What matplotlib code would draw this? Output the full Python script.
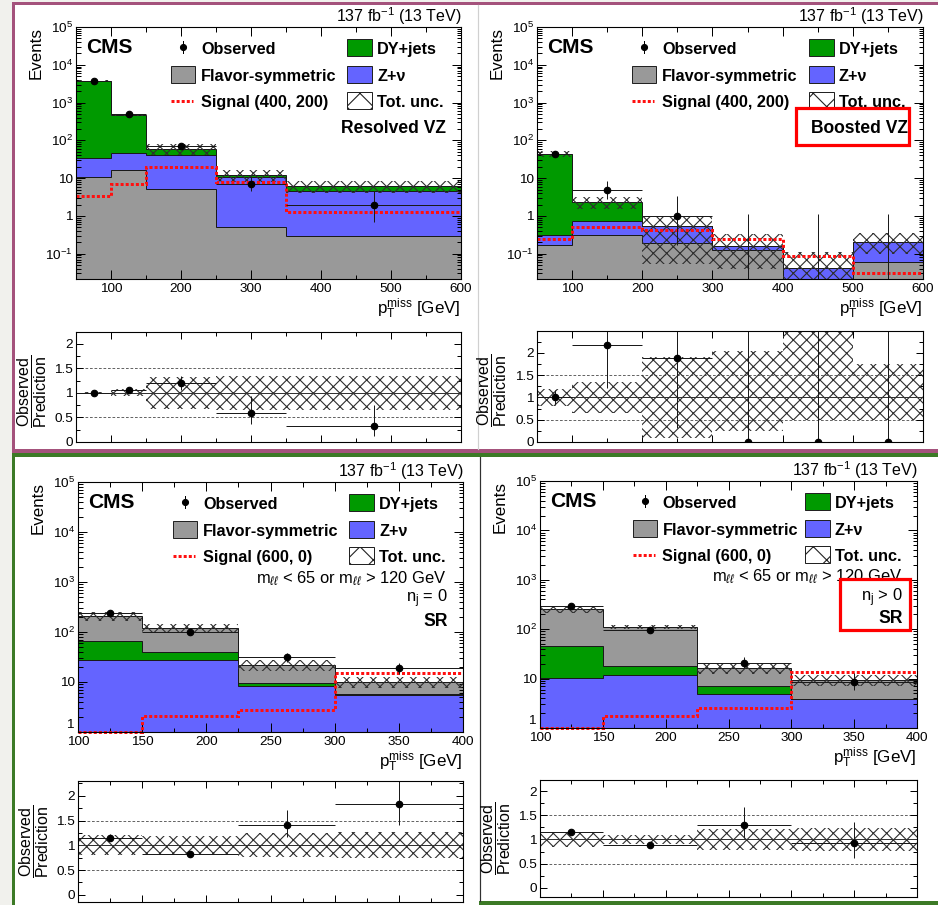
import numpy as np
import matplotlib
matplotlib.use("Agg")
import matplotlib.pyplot as plt
from matplotlib.patches import Rectangle
from matplotlib.lines import Line2D
from matplotlib.ticker import (LogLocator, MultipleLocator, FuncFormatter,
                               NullFormatter)

W, H, DPI = 938, 905, 80
PT = 72.0 / DPI  # points per pixel

plt.rcParams["font.family"] = ["Liberation Sans", "DejaVu Sans"]
plt.rcParams["mathtext.fontset"] = "custom"
plt.rcParams["mathtext.rm"] = "Liberation Sans"
plt.rcParams["mathtext.it"] = "Liberation Sans:italic"
plt.rcParams["mathtext.bf"] = "Liberation Sans:bold"
plt.rcParams["hatch.linewidth"] = 1.0

# ---------------- data ----------------
# Resolved VZ
rvz_edges = [50, 100, 150, 250, 350, 600]
rvz_flavsym = [11, 16, 5.2, 0.5, 0.3]
rvz_zv = [24, 29, 35, 10.5, 4.4]
rvz_dy = [3765, 430, 20, 1.0, 1.4]
rvz_obs = [3800, 500, 72, 7.2, 2.0]
rvz_obs_lo = [62, 22, 8.5, 2.7, 1.3]
rvz_obs_hi = [62, 22, 8.5, 4.0, 2.6]
rvz_unc_lo = [0.015, 0.07, 0.33, 0.35, 0.35]
rvz_unc_hi = [0.015, 0.07, 0.33, 0.35, 0.35]
rvz_signal = [3.3, 7.0, 20, 7.8, 1.25]

# Boosted VZ
bvz_edges = [50, 100, 200, 300, 400, 500, 600]
bvz_flavsym = [0.175, 0.31, 0.19, 0.125, 0.0, 0.06]
bvz_zv = [0.145, 0.44, 0.34, 0.035, 0.042, 0.14]
bvz_dy = [43.7, 1.55, 0.0, 0.0, 0.0, 0.0]
bvz_obs = [44, 5, 1, 0, 0, 0]
bvz_obs_lo = [7, 2.2, 0.83, 0, 0, 0]
bvz_obs_hi = [7, 3.4, 2.3, 1.15, 1.15, 1.15]
bvz_unc_lo = [0.2, 0.35, 0.9, 0.76, 0.5, 0.5]
bvz_unc_hi = [0.2, 0.35, 0.9, 1.05, 1.6, 0.75]
bvz_signal = [0.25, 0.52, 0.43, 0.25, 0.086, 0.03]

# SR, n_j = 0
sr0_edges = [100, 150, 225, 300, 400]
sr0_zv = [28, 27, 8.3, 5.5]
sr0_dy = [38, 12, 1.4, 0.25]
sr0_flavsym = [140, 83, 12.3, 4.45]
sr0_obs = [237, 100, 31, 18.7]
sr0_obs_lo = [15, 8, 5.5, 4.3]
sr0_obs_hi = [15, 8, 6.9, 5.4]
sr0_unc_lo = [0.2, 0.18, 0.24, 0.26]
sr0_unc_hi = [0.2, 0.18, 0.24, 0.26]
sr0_signal = [1.0, 2.05, 2.75, 14.8]

# SR, n_j > 0
sr1_edges = [100, 150, 225, 300, 400]
sr1_zv = [10.5, 11.9, 4.9, 3.8]
sr1_dy = [34.5, 6.1, 2.2, 0.1]
sr1_flavsym = [207, 92, 9.0, 5.5]
sr1_obs = [290, 97, 21, 8.65]
sr1_obs_lo = [13, 6, 4.5, 2.9]
sr1_obs_hi = [13, 6, 5.8, 4.2]
sr1_unc_lo = [0.15, 0.1, 0.22, 0.23]
sr1_unc_hi = [0.15, 0.1, 0.22, 0.23]
sr1_signal = [1.0, 1.72, 2.5, 13.4]

# ---------------- style ----------------
C_DY = "#009a00"
C_ZV = "#6464ff"
C_FS = "#999999"
C_SIG = "#ff1010"
C_HATCH = "#2e2e2e"
BG = "#f1f1ed"
PURPLE = "#a4527c"
GREEN = "#3c7a26"
HATCH = "xx"

FS_TICK = 13.5 * PT
FS_TITLE = 17.0 * PT
FS_LEG = 16.3 * PT
FS_CMS = 21.0 * PT
FS_LUMI = 16.0 * PT

fig = plt.figure(figsize=(W / DPI, H / DPI), dpi=DPI, facecolor=BG)


def fx(x):
    return x / W


def fy(y):
    return 1 - y / H


def add_rect(x0, y0, x1, y1, z=-5, **kw):
    r = Rectangle((fx(x0), fy(y1)), (x1 - x0) / W, (y1 - y0) / H,
                  transform=fig.transFigure, zorder=z, **kw)
    fig.patches.append(r)
    return r


def add_line(xs, ys, z=-4, **kw):
    ln = Line2D([fx(v) for v in xs], [fy(v) for v in ys],
                transform=fig.transFigure, zorder=z, **kw)
    fig.lines.append(ln)
    return ln


# panel frames
add_rect(12, 2, 938, 453, color=PURPLE, lw=0)
add_rect(15, 5, 938, 449, color="white", lw=0)
add_rect(12, 453, 938, 905, color=GREEN, lw=0)
add_rect(15, 457, 938, 905, color="white", lw=0)
add_rect(479, 901, 938, 905, color=GREEN, lw=0)
add_line([478, 478], [5, 449], color="#d0d0d0", lw=1.2 * PT)
add_line([479.5, 479.5], [457, 901], color="#303030", lw=1.2 * PT)


def new_axes(l, t, r, b):
    return fig.add_axes([fx(l), fy(b), (r - l) / W, (b - t) / H])


def log_label(v, pos):
    e = int(round(np.log10(v)))
    if e == 0:
        return "1"
    if e == 1:
        return "10"
    return r"$10^{%d}$" % e


def log_label_no_one(v, pos):
    # the label "1" at the bottom edge is placed by hand above the x labels
    return "" if int(round(np.log10(v))) == 0 else log_label(v, pos)


def style_axes(ax, xmaj, xmin):
    for s in ax.spines.values():
        s.set_linewidth(1.1 * PT)
        s.set_zorder(6)
    ax.xaxis.set_major_locator(MultipleLocator(xmaj))
    ax.xaxis.set_minor_locator(MultipleLocator(xmin))
    ax.tick_params(which="both", direction="in", top=True, right=True,
                   width=1.0 * PT, labelsize=FS_TICK, zorder=6)
    ax.tick_params(which="major", length=9 * PT)
    ax.tick_params(which="minor", length=4.5 * PT)
    ax.tick_params(axis="y", pad=3 * PT)
    ax.tick_params(axis="x", pad=4 * PT)


def draw_main(ax, edges, comps, obs, obs_lo, obs_hi, unc_lo, unc_hi, signal,
              ylim, xmaj, xmin):
    edges = np.asarray(edges, float)
    floor = ylim[0] * 1e-3
    base = np.full(len(edges) - 1, floor)
    tops = []
    for vals, color in comps:
        top = base + np.asarray(vals, float)
        ax.stairs(top, edges, baseline=base, fill=True, color=color, lw=0,
                  zorder=1)
        tops.append(top)
        base = top
    for top in tops:
        ax.stairs(top, edges, baseline=None, color="#1a1a1a",
                  lw=1.0 * PT, zorder=2)
    total = base
    up = total * (1 + np.asarray(unc_hi))
    dn = np.maximum(total * (1 - np.asarray(unc_lo)), floor)
    ax.stairs(up, edges, baseline=dn, fill=True, facecolor="none",
              edgecolor=C_HATCH, hatch=HATCH, lw=0, zorder=3)
    ax.stairs(signal, edges, baseline=None, color=C_SIG, lw=3.0 * PT,
              ls=(0, (1, 0.7)), zorder=4, clip_on=False)
    centers = 0.5 * (edges[1:] + edges[:-1])
    half = 0.5 * (edges[1:] - edges[:-1])
    obs = np.asarray(obs, float)
    m = obs > 0
    ax.errorbar(centers[m], obs[m], xerr=half[m],
                yerr=[np.asarray(obs_lo)[m], np.asarray(obs_hi)[m]],
                fmt="o", ms=6.5 * PT, color="black", ecolor="#1a1a1a",
                elinewidth=1.0 * PT, capsize=0, zorder=5)
    for c, hi in zip(centers[~m], np.asarray(obs_hi)[~m]):
        ax.vlines(c, ylim[0], hi, color="#1a1a1a", lw=1.0 * PT, zorder=5)
    ax.set_yscale("log")
    ax.set_xlim(edges[0], edges[-1])
    ax.set_ylim(*ylim)
    ax.yaxis.set_major_locator(LogLocator(base=10, numticks=20))
    ax.yaxis.set_minor_locator(LogLocator(base=10, subs=np.arange(2, 10),
                                          numticks=200))
    fmt = log_label_no_one if ylim[0] >= 1 else log_label
    ax.yaxis.set_major_formatter(FuncFormatter(fmt))
    ax.yaxis.set_minor_formatter(NullFormatter())
    style_axes(ax, xmaj, xmin)
    return total


def draw_ratio(ax, edges, total, obs, obs_lo, obs_hi, unc_lo, unc_hi, ylim,
               xmaj, xmin):
    edges = np.asarray(edges, float)
    ax.stairs(1 + np.asarray(unc_hi), edges, baseline=1 - np.asarray(unc_lo),
              fill=True, facecolor="none", edgecolor=C_HATCH, hatch=HATCH,
              lw=0, zorder=2)
    ax.axhline(1.0, color="#333333", lw=1.0 * PT, zorder=3)
    for v in (0.5, 1.5):
        ax.axhline(v, color="#555555", lw=0.9 * PT, ls=(0, (3, 2)), zorder=1)
    centers = 0.5 * (edges[1:] + edges[:-1])
    half = 0.5 * (edges[1:] - edges[:-1])
    ratio = np.asarray(obs, float) / total
    ax.errorbar(centers, ratio, xerr=half,
                yerr=[np.asarray(obs_lo) / total, np.asarray(obs_hi) / total],
                fmt="o", ms=6.5 * PT, color="black", ecolor="#1a1a1a",
                elinewidth=1.0 * PT, capsize=0, zorder=5, clip_on=True)
    ax.set_xlim(edges[0], edges[-1])
    ax.set_ylim(*ylim)
    ax.yaxis.set_major_locator(MultipleLocator(0.5))
    ax.yaxis.set_minor_locator(MultipleLocator(0.25))
    ax.yaxis.set_major_formatter(
        FuncFormatter(lambda v, p: "%g" % v if v >= -1e-9 else ""))
    ax.xaxis.set_major_formatter(NullFormatter())
    style_axes(ax, xmaj, xmin)
    ax.tick_params(which="major", length=7 * PT)
    ax.tick_params(which="minor", length=4 * PT)


def text(x, y, s, **kw):
    kw.setdefault("zorder", 10)
    fig.text(fx(x), fy(y), s, **kw)


def decorate(L, T, R, B, sig_label):
    w = R - L
    k = w / 385.0
    text(R + 1, T - 5, r"137 fb$^{-1}$ (13 TeV)", ha="right", va="baseline",
         fontsize=FS_LUMI)
    text(L - 40, T, "Events", rotation=90, ha="center", va="top",
         fontsize=FS_TITLE)
    text(R, B + 35, r"$\mathrm{p}_{\mathrm{T}}^{\mathrm{miss}}$ [GeV]",
         ha="right", va="baseline", fontsize=FS_TITLE)
    text(L + 10 * k, T + 26, "CMS", fontsize=FS_CMS, fontweight="bold",
         ha="left", va="baseline")
    rows = [T + 27, T + 54, T + 80]
    # column 1
    mx = L + 107 * k
    add_line([mx, mx], [rows[0] - 13, rows[0] - 1], z=10, color="black",
             lw=1.0 * PT)
    add_line([mx], [rows[0] - 7], z=10, color="black", marker="o",
             ms=6 * PT, ls="none")
    bx0, bx1 = L + 95 * k, L + 119 * k
    cx0, cx1 = L + 271 * k, L + 296 * k
    tx1, tx2 = L + 125 * k, L + 301 * k
    add_rect(bx0, rows[1] - 15, bx1, rows[1] + 2, z=10, facecolor=C_FS,
             edgecolor="#222222", lw=1.0 * PT)
    add_line([bx0, bx0 + 22 * k], [rows[2] - 6.5, rows[2] - 6.5], z=10,
             color=C_SIG, lw=3.0 * PT, ls=(0, (1, 0.7)))
    text(tx1, rows[0], "Observed", fontsize=FS_LEG, fontweight="bold")
    text(tx1, rows[1], "Flavor-symmetric", fontsize=FS_LEG, fontweight="bold")
    text(tx1, rows[2], sig_label, fontsize=FS_LEG, fontweight="bold")
    # column 2
    add_rect(cx0, rows[0] - 15, cx1, rows[0] + 2, z=10, facecolor=C_DY,
             edgecolor="#222222", lw=1.0 * PT)
    add_rect(cx0, rows[1] - 15, cx1, rows[1] + 2, z=10, facecolor=C_ZV,
             edgecolor="#222222", lw=1.0 * PT)
    add_rect(cx0, rows[2] - 15, cx1, rows[2] + 2, z=10, facecolor="white",
             edgecolor="#222222", lw=1.0 * PT, hatch="x")
    text(tx2, rows[0], "DY+jets", fontsize=FS_LEG, fontweight="bold")
    text(tx2, rows[1], "Z+ν", fontsize=FS_LEG, fontweight="bold")
    text(tx2, rows[2], "Tot. unc.", fontsize=FS_LEG, fontweight="bold")


def bottom_one_label(L, B):
    text(L - 4, B - 1, "1", ha="right", va="bottom", fontsize=FS_TICK)


def ratio_label(L, yc):
    text(L - 45, yc, r"$\dfrac{\mathrm{Observed}}{\mathrm{Prediction}}$",
         rotation=90, ha="center", va="center", fontsize=16.0 * PT)


# ---------------- top-left: resolved VZ ----------------
L, T, R, B = 76, 27, 461, 279
ax = new_axes(L, T, R, B)
tot = draw_main(ax, rvz_edges,
                [(rvz_flavsym, C_FS), (rvz_zv, C_ZV), (rvz_dy, C_DY)],
                rvz_obs, rvz_obs_lo, rvz_obs_hi, rvz_unc_lo, rvz_unc_hi,
                rvz_signal, (0.0214, 1e5), 100, 50)
decorate(L, T, R, B, "Signal (400, 200)")
text(R - 15, T + 106, "Resolved VZ", ha="right", va="baseline",
     fontsize=17.5 * PT, fontweight="bold")
axr = new_axes(76, 332, 461, 442)
draw_ratio(axr, rvz_edges, tot, rvz_obs, rvz_obs_lo, rvz_obs_hi,
           rvz_unc_lo, rvz_unc_hi, (0, 2.24), 100, 50)
ratio_label(76, 391)

# ---------------- top-right: boosted VZ ----------------
L, T, R, B = 537, 27, 923, 279
ax = new_axes(L, T, R, B)
tot = draw_main(ax, bvz_edges,
                [(bvz_flavsym, C_FS), (bvz_zv, C_ZV), (bvz_dy, C_DY)],
                bvz_obs, bvz_obs_lo, bvz_obs_hi, bvz_unc_lo, bvz_unc_hi,
                bvz_signal, (0.0214, 1e5), 100, 50)
decorate(L, T, R, B, "Signal (400, 200)")
text(R - 15, T + 106, "Boosted VZ", ha="right", va="baseline",
     fontsize=17.5 * PT, fontweight="bold")
add_rect(796, 108, 909, 145, z=11, facecolor="none", edgecolor="#ff0000",
         lw=3.2 * PT)
axr = new_axes(537, 331, 923, 442)
draw_ratio(axr, bvz_edges, tot, bvz_obs, bvz_obs_lo, bvz_obs_hi,
           bvz_unc_lo, bvz_unc_hi, (0, 2.49), 100, 50)
ratio_label(537, 390)

# ---------------- bottom-left: SR n_j = 0 ----------------
L, T, R, B = 78, 482, 463, 732
ax = new_axes(L, T, R, B)
tot = draw_main(ax, sr0_edges,
                [(sr0_zv, C_ZV), (sr0_dy, C_DY), (sr0_flavsym, C_FS)],
                sr0_obs, sr0_obs_lo, sr0_obs_hi, sr0_unc_lo, sr0_unc_hi,
                sr0_signal, (1, 1e5), 50, 25)
decorate(L, T, R, B, "Signal (600, 0)")
bottom_one_label(L, B)
text(R - 16, T + 101, r"m$_{\ell\ell}$ < 65 or m$_{\ell\ell}$ > 120 GeV",
     ha="right", va="baseline", fontsize=16.5 * PT)
text(R - 15, T + 120, r"n$_{\mathrm{j}}$ = 0", ha="right", va="baseline",
     fontsize=16.5 * PT)
text(R - 15, T + 144, "SR", ha="right", va="baseline", fontsize=17.5 * PT,
     fontweight="bold")
axr = new_axes(78, 781, 463, 902)
draw_ratio(axr, sr0_edges, tot, sr0_obs, sr0_obs_lo, sr0_obs_hi,
           sr0_unc_lo, sr0_unc_hi, (-0.147, 2.3), 50, 25)
ratio_label(78, 841)

# ---------------- bottom-right: SR n_j > 0 ----------------
L, T, R, B = 540, 481, 917, 728
ax = new_axes(L, T, R, B)
tot = draw_main(ax, sr1_edges,
                [(sr1_zv, C_ZV), (sr1_dy, C_DY), (sr1_flavsym, C_FS)],
                sr1_obs, sr1_obs_lo, sr1_obs_hi, sr1_unc_lo, sr1_unc_hi,
                sr1_signal, (1, 1e5), 50, 25)
decorate(L, T, R, B, "Signal (600, 0)")
bottom_one_label(L, B)
text(R - 14, T + 100, r"m$_{\ell\ell}$ < 65 or m$_{\ell\ell}$ > 120 GeV",
     ha="right", va="baseline", fontsize=16.5 * PT)
text(R - 14, T + 120, r"n$_{\mathrm{j}}$ > 0", ha="right", va="baseline",
     fontsize=16.5 * PT)
text(R - 14, T + 142, "SR", ha="right", va="baseline", fontsize=17.5 * PT,
     fontweight="bold")
add_rect(840, 579, 910, 630, z=11, facecolor="none", edgecolor="#ff0000",
         lw=3.2 * PT)
axr = new_axes(540, 780, 917, 897)
draw_ratio(axr, sr1_edges, tot, sr1_obs, sr1_obs_lo, sr1_obs_hi,
           sr1_unc_lo, sr1_unc_hi, (-0.19, 2.23), 50, 25)
ratio_label(540, 838)

fig.savefig("out.png", dpi=DPI, facecolor=BG)
